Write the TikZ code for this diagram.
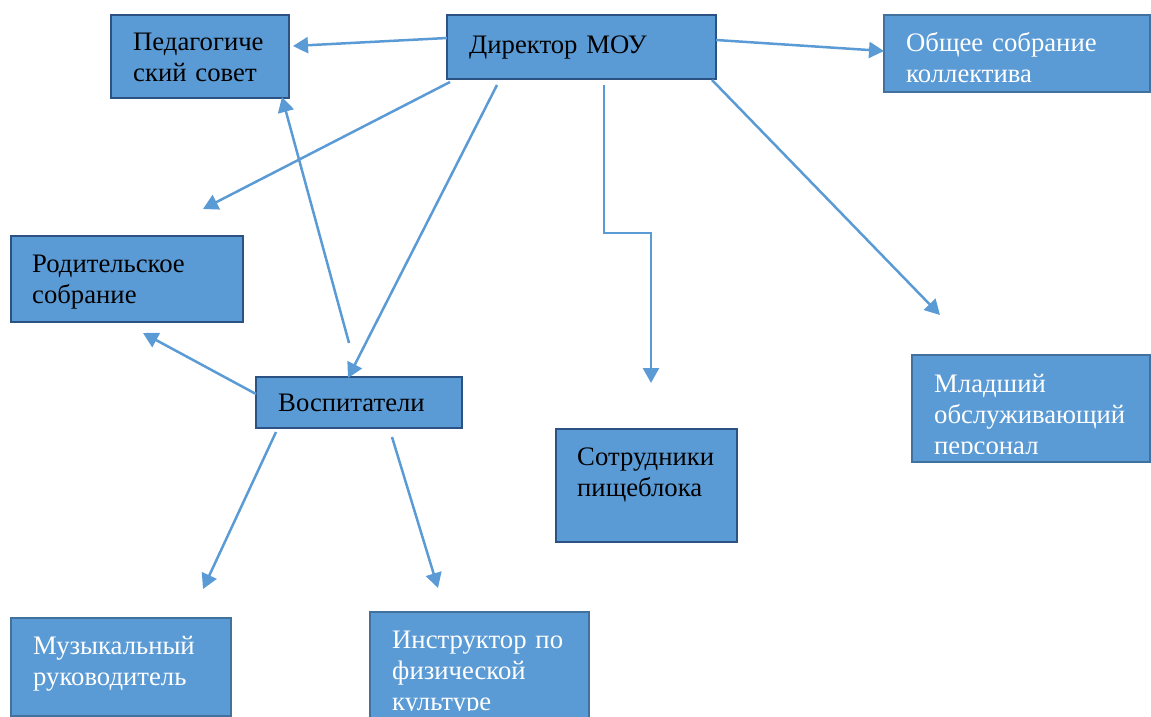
\documentclass[tikz,border=0pt]{standalone}
\usepackage{fontspec}
\setmainfont{Liberation Serif}
\usetikzlibrary{arrows.meta,calc}
\definecolor{boxfill}{HTML}{5B9BD5}
\definecolor{darkedge}{HTML}{2B5283}
\definecolor{lightedge}{HTML}{41719C}
\definecolor{linec}{HTML}{5B9BD5}
\begin{document}
\begin{tikzpicture}[x=1pt,y=-1pt,
  dbox/.style={draw=darkedge, line width=2.6pt, fill=boxfill, anchor=north west, inner sep=0pt, outer sep=0pt},
  lbox/.style={draw=lightedge, line width=2pt, fill=boxfill, anchor=north west, inner sep=0pt, outer sep=0pt},
  txt/.style={anchor=base west, inner sep=0pt, text width=260pt, align=left, font=\fontsize{26.7}{31}\selectfont},
  btxt/.style={txt, text=black},
  wtxt/.style={txt, text=white},
  conn/.style={draw=linec, line width=2.5pt, -{Triangle[length=15pt,width=16pt]}}]
\useasboundingbox (0,0) rectangle (1151,717);
\clip (0,0) rectangle (1151,717);

% boxes
\node[dbox, minimum width=178pt, minimum height=83pt] (ped) at (111,15) {};
\node[dbox, minimum width=269pt, minimum height=64pt] (dir) at (447,15) {};
\node[lbox, minimum width=266pt, minimum height=77pt] (obs) at (884,15) {};
\node[dbox, minimum width=232pt, minimum height=86pt] (par) at (11,236) {};
\node[dbox, minimum width=206pt, minimum height=51pt] (vos) at (256,377) {};
\node[dbox, minimum width=181pt, minimum height=113pt] (pis) at (556,429) {};
\node[lbox, minimum width=238pt, minimum height=107pt] (mla) at (912,355) {};
\node[lbox, minimum width=220pt, minimum height=98pt] (muz) at (11,618) {};
\node[lbox, minimum width=219pt, minimum height=120pt] (ins) at (370,612) {};

% texts
\node[btxt] (pedT) at (133,51) {Педагогиче\\ский совет};
\node[btxt] (dirT) at (469,54) {Директор МОУ};
\begin{scope}
  \clip (884,15) rectangle (1151,83);
  \node[wtxt] (obsT) at (906,52) {Общее собрание\\коллектива};
\end{scope}
\node[btxt] (parT) at (32,272) {Родительское\\собрание};
\node[btxt] (vosT) at (278,411) {Воспитатели};
\node[btxt] (pisT) at (577,465) {Сотрудники\\пищеблока};
\begin{scope}
  \clip (912,355) rectangle (1151,453);
  \node[wtxt] (mlaT) at (934,392) {Младший\\обслуживающий\\персонал};
\end{scope}
\node[wtxt] (muzT) at (33,654) {Музыкальный\\руководитель};
\begin{scope}
  \clip (370,612) rectangle (589,710);
  \node[wtxt] (insT) at (392,648) {Инструктор по\\физической\\культуре};
\end{scope}

% connector end points
\coordinate (e1) at (293,46);
\coordinate (e2) at (884,51);
\coordinate (e3) at (203,209);
\coordinate (e4) at (348,378);
\coordinate (b5) at (604,233);
\coordinate (c5) at (651,233);
\coordinate (e5) at (651,383);
\coordinate (e6) at (940,315);
\coordinate (e7) at (282,97);
\coordinate (e8) at (143,333);
\coordinate (e9) at (203,589);
\coordinate (e10) at (438,588);

% connectors
\draw[conn] ($(dir.north west)+(0,23)$) -- (e1);
\draw[conn] ($(dir.north east)+(0,25)$) -- (e2);
\draw[conn] ($(dir.south west)+(3,3)$) -- (e3);
\draw[conn] ($(dir.south west)+(50,6)$) -- (e4);
\draw[conn] ($(dir.south west)+(157,6)$) -- (b5) -- (c5) -- (e5);
\draw[conn] ($(dir.south east)+(-4,1)$) -- (e6);
\draw[conn] ($(vos.north west)+(93,-34)$) -- (e7);
\draw[conn] ($(vos.north west)+(0,17)$) -- (e8);
\draw[conn] ($(vos.south west)+(20,4)$) -- (e9);
\draw[conn] ($(vos.south west)+(136,9)$) -- (e10);
\end{tikzpicture}
\end{document}
